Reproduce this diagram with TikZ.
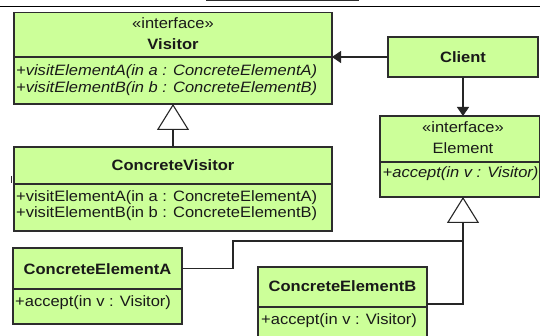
\documentclass[tikz,border=0pt]{standalone}
\usepackage{fontspec}
\setmainfont{Liberation Sans}[FakeStretch=1.1]
\usetikzlibrary{arrows.meta}
\definecolor{umlfill}{RGB}{204,255,153}
\definecolor{umlline}{RGB}{45,45,45}
\begin{document}
\begin{tikzpicture}[x=1pt,y=-1pt,
  comp/.style={draw=umlline, fill=umlfill, line width=1.1pt, inner sep=0pt, outer sep=0pt, anchor=north west},
  txt/.style={inner sep=0pt, font=\fontsize{15}{16}\selectfont, text=black!90},
  ctr/.style={txt, anchor=base},
  lft/.style={txt, anchor=base west},
  conn/.style={draw=black!85, line width=1.1pt},
  gen/.style={conn, -{Triangle[open, length=26pt, width=32pt]}},
  assoc/.style={conn, -{Triangle[length=9pt, width=12pt]}}]
\useasboundingbox (0,0) rectangle (540,336);
\clip (0,0) rectangle (540,336);
\fill[white] (0,0) rectangle (540,336);
% page remnants
\draw[line width=1.8pt, black] (0,6.5) -- (540,6.5);
\draw[line width=1pt, umlline] (206,-5) rectangle (358,0.7);
\draw[line width=1pt, umlline] (11,176) -- (11,183);
% Visitor
\node[comp, minimum width=318pt, minimum height=44.5pt] (vis) at (14,12.5) {};
\node[comp, minimum width=318pt, minimum height=47pt] (visM) at (14,57) {};
\node[ctr] (visS) at (173,29) {«interface»};
\node[ctr, font=\fontsize{15}{16}\selectfont\bfseries] (visN) at (173,50) {Visitor};
\node[lft, font=\fontsize{15}{16}\selectfont\itshape] (visA) at (16,76) {+visitElementA(in a : ConcreteElementA)};
\node[lft, font=\fontsize{15}{16}\selectfont\itshape] (visB) at (16,92.5) {+visitElementB(in b : ConcreteElementB)};
% ConcreteVisitor
\node[comp, minimum width=318pt, minimum height=37pt] (cv) at (14,147) {};
\node[comp, minimum width=318pt, minimum height=47pt] (cvM) at (14,184) {};
\node[ctr, font=\fontsize{15}{16}\selectfont\bfseries] (cvN) at (173,171) {ConcreteVisitor};
\node[lft] (cvA) at (16,202) {+visitElementA(in a : ConcreteElementA)};
\node[lft] (cvB) at (16,218) {+visitElementB(in b : ConcreteElementB)};
% Client
\node[comp, minimum width=150pt, minimum height=40pt] (cli) at (388,37) {};
\node[ctr, font=\fontsize{15}{16}\selectfont\bfseries] (cliN) at (463,62.5) {Client};
% Element
\node[comp, minimum width=160pt, minimum height=46pt] (el) at (380,116) {};
\node[comp, minimum width=160pt, minimum height=35pt] (elM) at (380,162) {};
\node[ctr] (elS) at (463,132.5) {«interface»};
\node[ctr] (elN) at (463,154) {Element};
\node[lft, font=\fontsize{15}{16}\selectfont\itshape] (elA) at (382.5,178) {+accept(in v : Visitor)};
% ConcreteElementA
\node[comp, minimum width=169pt, minimum height=41pt] (ea) at (13,248) {};
\node[comp, minimum width=169pt, minimum height=35pt] (eaM) at (13,289) {};
\node[ctr, font=\fontsize{15}{16}\selectfont\bfseries] (eaN) at (97.5,275) {ConcreteElementA};
\node[lft] (eaA) at (15,306) {+accept(in v : Visitor)};
% ConcreteElementB
\node[comp, minimum width=169pt, minimum height=40pt] (eb) at (258,267) {};
\node[comp, minimum width=169pt, minimum height=40pt] (ebM) at (258,307) {};
\node[ctr, font=\fontsize{15}{16}\selectfont\bfseries] (ebN) at (342.5,291.5) {ConcreteElementB};
\node[lft] (ebA) at (261,324) {+accept(in v : Visitor)};
% connectors
\coordinate (elTip) at ([xshift=3pt]elM.south);
\draw[assoc] (cli.west) -- (cli.west -| visM.east);
\draw[assoc] (cli.south) -- (cli.south |- el.north);
\draw[gen] (cv.north) -- (visM.south);
\draw[conn] (ea.east) -- ++(51,0) |- (elTip |- 0,241);
\draw[gen] ([yshift=3pt]eb.south east) -| (elTip);
\end{tikzpicture}
\end{document}
